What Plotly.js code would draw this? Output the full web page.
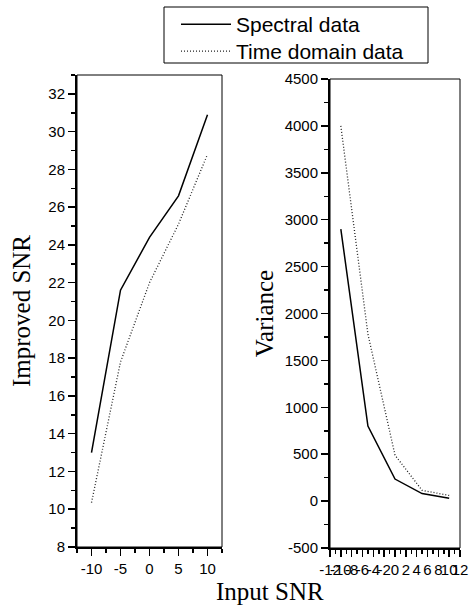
<!DOCTYPE html>
<html>
<head>
<meta charset="utf-8">
<script src="https://cdn.plot.ly/plotly-3.0.1.min.js"></script>
<style>
html,body{margin:0;padding:0;background:#fff;}
#chart{width:471px;height:607px;}
</style>
</head>
<body>
<div id="chart"></div>
<script>
// ---- data ----
var inputSNR = [-10, -5, 0, 5, 10];
var improvedSpectral = [13.0, 21.6, 24.4, 26.6, 30.9];
var improvedTime = [10.35, 17.8, 22.0, 25.1, 28.8];
var varianceSpectral = [2900, 800, 235, 80, 30];
var varianceTime = [4000, 1780, 490, 115, 60];

var seriesNames = ["Spectral data", "Time domain data"];

// tick labels
var leftXTicks = [-10, -5, 0, 5, 10];
var leftXLabels = ["-10", "-5", "0", "5", "10"];
var leftYTicks = [8, 10, 12, 14, 16, 18, 20, 22, 24, 26, 28, 30, 32];
var leftYLabels = ["8", "10", "12", "14", "16", "18", "20", "22", "24", "26", "28", "30", "32"];
var rightXTicks = [-12, -10, -8, -6, -4, -2, 0, 2, 4, 6, 8, 10, 12];
var rightXLabels = ["-12", "-10", "-8", "-6", "-4", "-2", "0", "2", "4", "6", "8", "10", "12"];
var rightYTicks = [-500, 0, 500, 1000, 1500, 2000, 2500, 3000, 3500, 4000, 4500];
var rightYLabels = ["-500", "0", "500", "1000", "1500", "2000", "2500", "3000", "3500", "4000", "4500"];

var W = 471, H = 607;
function fx(px){ return px / W; }
function fy(py){ return 1 - py / H; }

var solid = {color: "#000", width: 1.5};
var dotted = {color: "#222", width: 1.3, dash: "1px,2px"};

var traces = [
  {x: inputSNR, y: improvedSpectral, xaxis: "x", yaxis: "y", mode: "lines", name: seriesNames[0], line: solid, legend: "legend"},
  {x: inputSNR, y: improvedTime, xaxis: "x", yaxis: "y", mode: "lines", name: seriesNames[1], line: dotted, legend: "legend2"},
  {x: inputSNR, y: varianceSpectral, xaxis: "x2", yaxis: "y2", mode: "lines", name: seriesNames[0], line: solid, showlegend: false},
  {x: inputSNR, y: varianceTime, xaxis: "x2", yaxis: "y2", mode: "lines", name: seriesNames[1], line: dotted, showlegend: false}
];

var tickFont = {family: "Liberation Sans, Arial, sans-serif", size: 15, color: "#000"};
var titleFont = {family: "Liberation Serif, Times New Roman, serif", size: 25, color: "#000"};
var legendFont = {family: "Liberation Sans, Arial, sans-serif", size: 21, color: "#000"};

function axisBase(){
  return {
    showline: true, linecolor: "#000", linewidth: 2,
    ticks: "outside", ticklen: 7, tickwidth: 1.5, tickcolor: "#000",
    showgrid: false, zeroline: false, tickangle: 0,
    tickfont: tickFont, tickmode: "array", fixedrange: true
  };
}

var xaxis = Object.assign(axisBase(), {
  domain: [fx(77), fx(222)], range: [-12.5, 12.5], anchor: "y",
  tickvals: leftXTicks, ticktext: leftXLabels,
  minor: {dtick: 2.5, tick0: 0, ticks: "outside", ticklen: 4, tickwidth: 1.5, tickcolor: "#000"}
});
var yaxis = Object.assign(axisBase(), {
  domain: [fy(547), fy(75)], range: [8, 33], anchor: "x",
  tickvals: leftYTicks, ticktext: leftYLabels,
  minor: {dtick: 1, tick0: 0, ticks: "outside", ticklen: 4, tickwidth: 1.5, tickcolor: "#000"},
  title: {text: "Improved SNR", font: titleFont, standoff: 11}
});
var xaxis2 = Object.assign(axisBase(), {
  domain: [fx(330), fx(460)], range: [-12, 12], anchor: "y2",
  tickvals: rightXTicks, ticktext: rightXLabels,
  minor: {dtick: 1, tick0: 0, ticks: "outside", ticklen: 4, tickwidth: 1.5, tickcolor: "#000"}
});
var yaxis2 = Object.assign(axisBase(), {
  domain: [fy(548), fy(79)], range: [-500, 4500], anchor: "x2",
  tickvals: rightYTicks, ticktext: rightYLabels,
  minor: {dtick: 250, tick0: 0, ticks: "outside", ticklen: 4, tickwidth: 1.5, tickcolor: "#000"},
  title: {text: "Variance", font: titleFont, standoff: 4}
});

function legendAt(topPx){
  return {
    x: fx(176), y: fy(topPx), xanchor: "left", yanchor: "top",
    borderwidth: 0, bgcolor: "rgba(0,0,0,0)",
    font: legendFont, itemwidth: 50
  };
}

var layout = {
  width: W, height: H,
  margin: {l: 0, r: 0, t: 0, b: 0, pad: 0},
  paper_bgcolor: "#fff", plot_bgcolor: "#fff",
  showlegend: true,
  legend: legendAt(4),
  legend2: legendAt(31),
  xaxis: xaxis, yaxis: yaxis, xaxis2: xaxis2, yaxis2: yaxis2,
  shapes: [
    {type: "rect", xref: "x domain", yref: "y domain", x0: 0, x1: 1, y0: 0, y1: 1, line: {color: "#000", width: 1}, layer: "above"},
    {type: "rect", xref: "x2 domain", yref: "y2 domain", x0: 0, x1: 1, y0: 0, y1: 1, line: {color: "#000", width: 1}, layer: "above"},
    // legend frame
    {type: "rect", xref: "paper", yref: "paper", x0: fx(164), x1: fx(428), y0: fy(63), y1: fy(7), line: {color: "#000", width: 1}, layer: "above"}
  ],
  annotations: [
    {text: "Input SNR", xref: "paper", yref: "paper", x: fx(270), y: fy(591), xanchor: "center", yanchor: "middle",
     showarrow: false, font: titleFont}
  ]
};

Plotly.newPlot("chart", traces, layout, {displayModeBar: false, staticPlot: true});
</script>
</body>
</html>
